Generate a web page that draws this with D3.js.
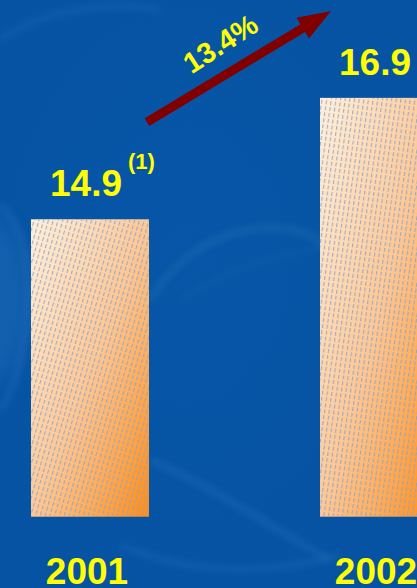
<!DOCTYPE html>
<html>
<head>
<meta charset="utf-8">
<script src="https://cdn.jsdelivr.net/npm/d3@7/dist/d3.min.js"></script>
<style>
  html, body { margin: 0; padding: 0; background: #0755a5; overflow: hidden; }
  svg { display: block; }
</style>
</head>
<body>
<svg id="chart" width="417" height="588"></svg>
<script>
// Revenue by year (values drawn above each bar)
const years = ["2001", "2002"];
const values = [14.9, 16.9];
const valueNotes = ["(1)", ""];
const hatchAngles = [16, 8];

const W = 417, H = 588;
const svg = d3.select("#chart");
const defs = svg.append("defs");

// Scales: the value axis starts at 10, not zero
const y = d3.scaleLinear().domain([10, 18]).range([516.7, 31.1]);
const x = d3.scaleBand().domain(years).range([31, 438]).paddingInner(171 / 289).paddingOuter(0);

// ---- background ----
const bg = defs.append("radialGradient").attr("id", "bg").attr("cx", "0.45").attr("cy", "0.45").attr("r", "0.8");
bg.append("stop").attr("offset", "0").attr("stop-color", "#0756a7");
bg.append("stop").attr("offset", "1").attr("stop-color", "#0652a2");
svg.append("rect").attr("width", W).attr("height", H).attr("fill", "url(#bg)");

defs.append("filter").attr("id", "soft").attr("x", "-50%").attr("y", "-50%").attr("width", "200%").attr("height", "200%")
  .append("feGaussianBlur").attr("stdDeviation", 3.5);
defs.append("filter").attr("id", "soft2").attr("x", "-50%").attr("y", "-50%").attr("width", "200%").attr("height", "200%")
  .append("feGaussianBlur").attr("stdDeviation", 10);

const swirl = svg.append("g").attr("fill", "none");
// faint disc glow on the left edge
swirl.append("ellipse").attr("cx", -45).attr("cy", 300).attr("rx", 75).attr("ry", 100)
  .attr("fill", "#2a78c0").attr("opacity", 0.35).attr("filter", "url(#soft2)");
swirl.append("path").attr("d", "M0,205 C20,220 30,260 28,300 C26,350 15,390 0,410")
  .attr("stroke", "#3f8fd0").attr("stroke-width", 5).attr("opacity", 0.25).attr("filter", "url(#soft)");
// arcs through the middle
swirl.append("path").attr("d", "M150,300 C180,250 230,225 280,228 C310,232 320,240 330,250")
  .attr("stroke", "#2a86b8").attr("stroke-width", 6).attr("opacity", 0.3).attr("filter", "url(#soft)");
swirl.append("path").attr("d", "M150,460 C200,480 260,520 330,560")
  .attr("stroke", "#3b86c8").attr("stroke-width", 6).attr("opacity", 0.25).attr("filter", "url(#soft)");
swirl.append("path").attr("d", "M120,545 C190,575 270,575 340,555")
  .attr("stroke", "#3b86c8").attr("stroke-width", 6).attr("opacity", 0.2).attr("filter", "url(#soft)");
swirl.append("path").attr("d", "M0,40 C40,10 110,0 160,10")
  .attr("stroke", "#3b86c8").attr("stroke-width", 6).attr("opacity", 0.18).attr("filter", "url(#soft)");
swirl.append("path").attr("d", "M180,300 C260,250 330,240 417,250")
  .attr("stroke", "#2a86b8").attr("stroke-width", 5).attr("opacity", 0.12).attr("filter", "url(#soft)");

// ---- bar fills: diagonal cream-to-orange gradient with dashed hatching ----
const grad = defs.append("linearGradient").attr("id", "barGrad")
  .attr("x1", "0").attr("y1", "0").attr("x2", "1").attr("y2", "1");
grad.append("stop").attr("offset", "0").attr("stop-color", "#fff0dc");
grad.append("stop").attr("offset", "0.5").attr("stop-color", "#fdc896");
grad.append("stop").attr("offset", "1").attr("stop-color", "#ff8c14");

hatchAngles.forEach((a, i) => {
  const p = defs.append("pattern").attr("id", "hatch" + i)
    .attr("patternUnits", "userSpaceOnUse").attr("width", 4.6).attr("height", 30)
    .attr("patternTransform", `rotate(${a})`);
  p.append("line").attr("x1", 1.5).attr("y1", 0).attr("x2", 1.5).attr("y2", 30)
    .attr("stroke", "#8ea3c4").attr("stroke-opacity", 0.85).attr("stroke-width", 1.1)
    .attr("stroke-dasharray", "4,2");
});

const bars = svg.append("g");
years.forEach((yr, i) => {
  const bx = x(yr), by = y(values[i]), bw = x.bandwidth(), bh = y(10) - y(values[i]);
  bars.append("rect").attr("x", bx).attr("y", by).attr("width", bw).attr("height", bh)
    .attr("fill", "url(#barGrad)");
  bars.append("rect").attr("x", bx).attr("y", by).attr("width", bw).attr("height", bh)
    .attr("fill", `url(#hatch${i})`);
});

// ---- labels ----
const font = "'Liberation Sans', Arial, sans-serif";
const labels = svg.append("g").attr("fill", "#ffff00").attr("font-family", font).attr("font-weight", "bold");

years.forEach((yr, i) => {
  const cx = x(yr) + x.bandwidth() / 2;
  labels.append("text").attr("x", cx - 4).attr("y", y(values[i]) - 23)
    .attr("text-anchor", "middle").attr("font-size", 37).text(values[i].toFixed(1));
  if (valueNotes[i]) {
    labels.append("text").attr("x", cx + 38).attr("y", y(values[i]) - 50)
      .attr("text-anchor", "start").attr("font-size", 22).text(valueNotes[i]);
  }
  labels.append("text").attr("x", cx - 3).attr("y", 584)
    .attr("text-anchor", "middle").attr("font-size", 37).text(yr);
});

// ---- growth arrow from the first bar's corner towards the second bar ----
const x0 = x(years[0]) + x.bandwidth() - 2, y0 = y(16.5);
const x1 = x(years[1]) + 11, y1 = y(18.33);
const dx = x1 - x0, dy = y1 - y0, len = Math.hypot(dx, dy);
const ux = dx / len, uy = dy / len, nx = -uy, ny = ux;
const sw = 4.5, hl = 33, hw = 12;
const bxp = x1 - ux * hl, byp = y1 - uy * hl;
const pts = [
  [x0 + nx * sw, y0 + ny * sw],
  [bxp + nx * sw, byp + ny * sw],
  [bxp + nx * hw, byp + ny * hw],
  [x1, y1],
  [bxp - nx * hw, byp - ny * hw],
  [bxp - nx * sw, byp - ny * sw],
  [x0 - nx * sw, y0 - ny * sw]
];
svg.append("path").attr("d", d3.line()(pts) + "Z").attr("fill", "#800000");

const growth = values[1] / values[0] - 1;
labels.append("text")
  .attr("transform", `translate(226,52) rotate(-33)`)
  .attr("text-anchor", "middle").attr("font-size", 29)
  .text(d3.format(".1%")(growth));
</script>
</body>
</html>
